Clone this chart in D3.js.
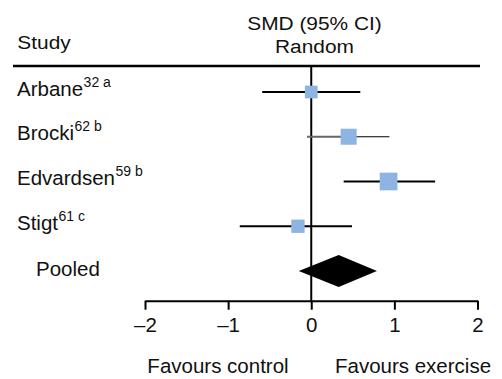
<!DOCTYPE html>
<html>
<head>
<meta charset="utf-8">
<script src="https://cdn.jsdelivr.net/npm/d3@7"></script>
<style>
  html, body { margin: 0; padding: 0; background: #fff; }
  svg { display: block; font-family: "Liberation Sans", Arial, sans-serif; }
</style>
</head>
<body>
<svg id="chart" width="502" height="379"></svg>
<script>
// ---- data ----
const studies = ["Arbane", "Brocki", "Edvardsen", "Stigt"];
const refs = ["32 a", "62 b", "59 b", "61 c"];
const smd = [0.00, 0.45, 0.93, -0.16];
const lower = [-0.59, -0.05, 0.39, -0.86];
const upper = [0.59, 0.94, 1.49, 0.49];
const weights = [17.8, 28.2, 34.5, 19.5];
const pooledLabel = ["Pooled"];
const pooledSmd = [0.33];
const pooledLower = [-0.15];
const pooledUpper = [0.79];
const tickValues = [-2, -1, 0, 1, 2];
const tickLabels = ["\u20132", "\u20131", "0", "1", "2"];
const headerStudy = "Study";
const headerEffect = ["SMD (95% CI)", "Random"];
const favours = ["Favours control", "Favours exercise"];

// ---- layout ----
const svg = d3.select("#chart");
const x = d3.scaleLinear().domain([-2, 2]).range([145, 477.5]);
const y = d3.scalePoint().domain(d3.range(studies.length + 1)).range([92, 271]);
const size = d3.scaleSqrt().domain([0, d3.max(weights)]).range([0, 17.7]);
const headerY = 66, axisY = 300.7;

// header texts (slightly horizontally stretched as in reference)
function stretchedText(txt, tx, ty, anchor) {
  svg.append("text")
    .attr("transform", `translate(${tx},${ty}) scale(1.16,1)`)
    .attr("text-anchor", anchor)
    .attr("font-size", 18)
    .attr("fill", "#111")
    .text(txt);
}
stretchedText(headerStudy, 17.3, 49.3, "start");
stretchedText(headerEffect[0], 314.5, 30, "middle");
stretchedText(headerEffect[1], 314.5, 53.3, "middle");

// header line
svg.append("line")
  .attr("x1", 13).attr("x2", 480)
  .attr("y1", headerY).attr("y2", headerY)
  .attr("stroke", "#000").attr("stroke-width", 2.5);

// zero line
svg.append("line")
  .attr("x1", x(0)).attr("x2", x(0))
  .attr("y1", headerY).attr("y2", axisY)
  .attr("stroke", "#000").attr("stroke-width", 2);

// study labels
const lab = svg.selectAll("text.study").data(studies).join("text")
  .attr("class", "study")
  .attr("x", 17)
  .attr("y", (d, i) => y(i) + 3.5)
  .attr("font-size", 20.5)
  .attr("fill", "#111");
lab.append("tspan").text(d => d);
lab.append("tspan")
  .attr("font-size", 14)
  .attr("dy", -9)
  .attr("dx", 0.5)
  .text((d, i) => refs[i]);

// pooled label
svg.append("text")
  .attr("x", 36)
  .attr("y", y(studies.length) + 5)
  .attr("font-size", 20.5)
  .attr("fill", "#111")
  .text(pooledLabel[0]);

// CI lines
studies.forEach((s, i) => {
  if (s === "Brocki") {
    svg.append("line")
      .attr("x1", x(lower[i])).attr("x2", x(smd[i]))
      .attr("y1", y(i)).attr("y2", y(i))
      .attr("stroke", "#666").attr("stroke-width", 1.8);
    svg.append("line")
      .attr("x1", x(smd[i])).attr("x2", x(upper[i]))
      .attr("y1", y(i)).attr("y2", y(i))
      .attr("stroke", "#000").attr("stroke-width", 1.1);
  } else {
    svg.append("line")
      .attr("x1", x(lower[i])).attr("x2", x(upper[i]))
      .attr("y1", y(i)).attr("y2", y(i))
      .attr("stroke", "#000").attr("stroke-width", 1.8);
  }
});

// squares
svg.selectAll("rect.pt").data(studies).join("rect")
  .attr("class", "pt")
  .attr("x", (d, i) => x(smd[i]) - size(weights[i]) / 2)
  .attr("y", (d, i) => y(i) - size(weights[i]) / 2)
  .attr("width", (d, i) => size(weights[i]))
  .attr("height", (d, i) => size(weights[i]))
  .attr("fill", "#8DB4E2");

// pooled diamond
const py = y(studies.length), ph = 16;
svg.append("path")
  .attr("d", `M${x(pooledLower[0])},${py} L${x(pooledSmd[0])},${py - ph} L${x(pooledUpper[0])},${py} L${x(pooledSmd[0])},${py + ph} Z`)
  .attr("fill", "#000");

// axis
const axis = d3.axisBottom(x)
  .tickValues(tickValues)
  .tickFormat((d, i) => tickLabels[i])
  .tickSize(9)
  .tickSizeOuter(0)
  .tickPadding(8);
const ag = svg.append("g").attr("transform", `translate(0,${axisY})`).call(axis);
ag.select(".domain").attr("stroke", "#000").attr("stroke-width", 2);
ag.selectAll(".tick line").attr("stroke", "#000").attr("stroke-width", 2);
ag.selectAll(".tick text")
  .attr("font-size", 20.5)
  .attr("font-family", "'Liberation Sans', Arial, sans-serif")
  .attr("fill", "#111");

// favours labels
svg.selectAll("text.fav").data(favours).join("text")
  .attr("class", "fav")
  .attr("x", (d, i) => i === 0 ? 218 : 413)
  .attr("y", 373)
  .attr("text-anchor", "middle")
  .attr("font-size", 20.5)
  .attr("fill", "#111")
  .text(d => d);
</script>
</body>
</html>
